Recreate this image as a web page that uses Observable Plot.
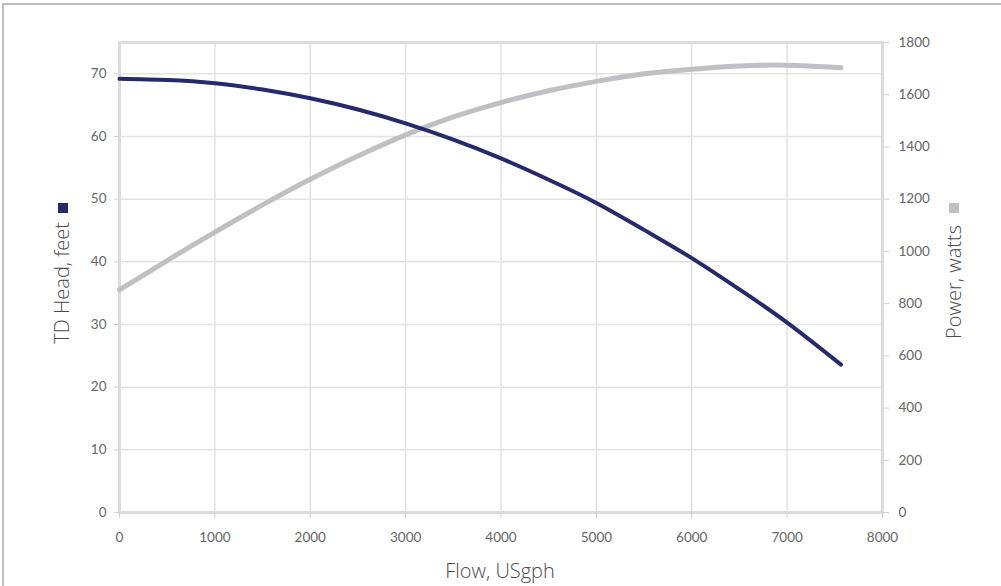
<!DOCTYPE html>
<html>
<head>
<meta charset="utf-8">
<script src="https://cdn.jsdelivr.net/npm/d3@7"></script>
<script src="https://cdn.jsdelivr.net/npm/@observablehq/plot@0.6"></script>
<style>
  html, body { margin: 0; padding: 0; background: #fff; }
  #wrap { position: relative; width: 1001px; height: 586px; overflow: hidden; background: #fff; }
  #border { position: absolute; left: 2px; top: 3px; width: 1200px; height: 800px;
            border-top: 2px solid #bdbdbd; border-left: 2px solid #bdbdbd; pointer-events: none; }
  #chart { position: absolute; left: 0; top: 0; }
</style>
</head>
<body>
<div id="wrap"><div id="border"></div><div id="chart"></div></div>
<script>
// Data
const flow  = [0, 500, 1000, 1500, 2000, 2500, 3000, 3500, 4000, 4500, 5000, 5500, 6000, 6500, 7000, 7564];
const head  = [69.2, 69.0, 68.5, 67.5, 66.1, 64.3, 62.1, 59.5, 56.5, 53.1, 49.4, 45.1, 40.6, 35.6, 30.3, 23.6];
const power = [853, 965, 1074, 1178, 1276, 1365, 1446, 1515, 1570, 1615, 1651, 1680, 1698, 1710, 1713, 1703];

const xTicks = [0, 1000, 2000, 3000, 4000, 5000, 6000, 7000, 8000];
const headTicks = [0, 10, 20, 30, 40, 50, 60, 70];
const powerTicks = [0, 200, 400, 600, 800, 1000, 1200, 1400, 1600, 1800];

const headMax = 75, powerMax = 1800;
const ratio = powerMax / headMax;

const xLabel = "Flow, USgph";
const headLabel = "TD Head, feet";
const powerLabel = "Power, watts";
const headColor = "#262a6d";
const powerColor = "#c0c0c4";

const rows = flow.map((f, i) => ({flow: f, head: head[i], power: power[i]}));

const chart = Plot.plot({
  width: 1001,
  height: 586,
  marginLeft: 119,
  marginRight: 119,
  marginTop: 42,
  marginBottom: 74,
  x: {domain: [0, 8000]},
  y: {domain: [0, headMax]},
  style: {fontFamily: "Lato, 'Open Sans', sans-serif", fontSize: "13.5px", background: "transparent", overflow: "visible"},
  marks: [
    Plot.gridX(xTicks.slice(1, -1), {stroke: "#e3e3e3", strokeOpacity: 1, strokeWidth: 1.5}),
    Plot.gridY(headTicks.slice(1), {stroke: "#e3e3e3", strokeOpacity: 1, strokeWidth: 1.5}),
    Plot.frame({stroke: "#dcdcdc", strokeWidth: 3}),
    Plot.axisX(xTicks, {tickSize: 6, tickPadding: 14, stroke: "#d2d2d2", fill: "#666", label: null,
      tickFormat: d => String(d)}),
    Plot.axisY(headTicks, {anchor: "left", tickSize: 5, tickPadding: 8, stroke: "#d2d2d2", fill: "#666", label: null,
      tickFormat: d => String(d)}),
    Plot.axisY(powerTicks.map(p => p / ratio), {anchor: "right", tickSize: 6, tickPadding: 10, stroke: "#d2d2d2", fill: "#666", label: null,
      tickFormat: d => String(Math.round(d * ratio))}),
    Plot.line(rows, {x: "flow", y: d => d.power / ratio, stroke: powerColor, strokeWidth: 5, curve: "natural", strokeLinecap: "round"}),
    Plot.line(rows, {x: "flow", y: "head", stroke: headColor, strokeWidth: 4, curve: "natural", strokeLinecap: "round"})
  ]
});

document.getElementById("chart").appendChild(chart);

const svg = d3.select(chart);
const titleStyle = (sel) => sel
  .attr("font-family", "'Open Sans', sans-serif")
  .attr("font-weight", 300)
  .attr("font-size", 20)
  .attr("fill", "#4a4a4a");

svg.append("text").call(titleStyle)
  .attr("x", 500).attr("y", 571).attr("dy", "0.35em")
  .attr("text-anchor", "middle").text(xLabel);

svg.append("text").call(titleStyle)
  .attr("transform", "translate(62,222) rotate(-90)")
  .attr("dy", "0.35em").attr("text-anchor", "end").text(headLabel);
svg.append("rect").attr("x", 58).attr("y", 203).attr("width", 10).attr("height", 10).attr("fill", headColor);

svg.append("text").call(titleStyle)
  .attr("transform", "translate(954,225) rotate(-90)")
  .attr("dy", "0.35em").attr("text-anchor", "end").text(powerLabel);
svg.append("rect").attr("x", 949).attr("y", 203).attr("width", 10).attr("height", 10).attr("fill", powerColor);
</script>
</body>
</html>
